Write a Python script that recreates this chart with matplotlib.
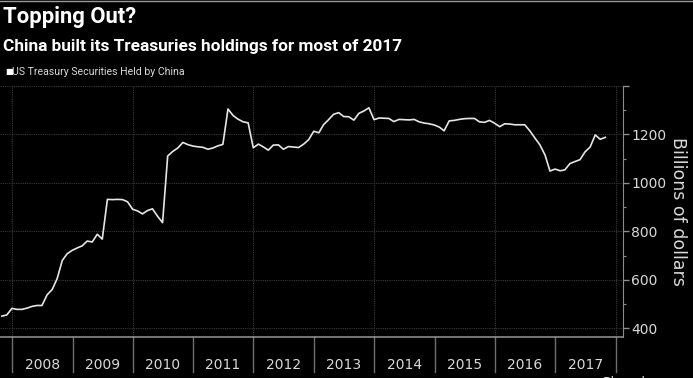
"""
Topping Out? - China's US Treasury holdings
"""
import matplotlib
matplotlib.use('Agg')
import matplotlib.pyplot as plt
from matplotlib.ticker import MultipleLocator
import pandas as pd

# monthly holdings, billions of dollars (Oct 2007 .. Oct 2017)
months = pd.date_range('2007-10-31', '2017-10-31', freq='ME')
holdings = [
    450, 455, 482, 478, 478, 483, 490, 494, 494, 538, 560, 605, 680, 708,
    722, 732, 740, 760, 756, 788, 768, 932, 931, 932, 931, 922,
    891, 884, 872, 886, 893, 862, 836, 1111, 1130, 1144, 1167, 1158,
    1152, 1149, 1147, 1139, 1144, 1153, 1159, 1305, 1278, 1263, 1252, 1248,
    1145, 1160, 1149, 1135, 1156, 1157, 1139, 1150, 1148, 1146, 1160, 1178,
    1213, 1207, 1240, 1261, 1283, 1290, 1274, 1273, 1259, 1287, 1297, 1310,
    1261, 1268, 1267, 1266, 1253, 1262, 1261, 1260, 1262, 1252, 1247, 1244,
    1239, 1230, 1215, 1256, 1258, 1262, 1265, 1266, 1266, 1252, 1250, 1258,
    1246, 1232, 1244, 1243, 1240, 1240, 1240, 1215, 1185, 1157, 1115, 1049,
    1057, 1050, 1054, 1080, 1088, 1096, 1128, 1148, 1198, 1180, 1188,
]
years = list(range(2008, 2018))

BG = '#000000'
FG = '#ffffff'
GRID = '#3a3a3a'
AXIS = '#8c8c8c'
LABEL = '#d9d9d9'
NARROW = ['Roboto', 'DejaVu Sans']

fig = plt.figure(figsize=(6.93, 3.78), dpi=100)
fig.patch.set_facecolor(BG)
ax = fig.add_axes([0.0, 0.1085, 0.899, 0.664])
ax.set_facecolor(BG)

ax.plot(months, holdings, color='#e6e6e6', lw=1.2, zorder=3)

x0 = pd.Timestamp('2007-10-20')
x1 = pd.Timestamp('2018-02-15')
ax.set_xlim(x0, x1)
ax.set_ylim(364, 1400)

# y axis on the right
ax.yaxis.tick_right()
ax.yaxis.set_label_position('right')
ax.yaxis.set_major_locator(MultipleLocator(200))
ax.yaxis.set_minor_locator(MultipleLocator(100))
ax.tick_params(axis='y', which='major', colors=AXIS, length=4, width=1,
               labelcolor=LABEL, labelsize=10, pad=2)
ax.tick_params(axis='y', which='minor', colors=AXIS, length=2, width=0.8)
ax.set_yticks([400, 600, 800, 1000, 1200, 1400])
ax.set_yticklabels(['400', '600', '800', '1000', '1200', ''])
ax.set_ylabel('Billions of dollars', color=LABEL, fontsize=12.5, rotation=270,
              labelpad=15)

# gridlines
for v in [400, 600, 800, 1000, 1200, 1400]:
    ax.axhline(v, color=GRID, lw=0.8, ls=(0, (1, 1)), zorder=1)
for yr in range(2008, 2019, 2):
    ax.axvline(pd.Timestamp(f'{yr}-01-01'), color=GRID, lw=0.8, ls=(0, (1, 1)), zorder=1)

# spines
for s in ['top', 'left']:
    ax.spines[s].set_visible(False)
ax.spines['right'].set_color(AXIS)
ax.spines['bottom'].set_color(AXIS)
ax.spines['bottom'].set_linewidth(1.2)

# x axis: year separators below the axis, labels centred in each year
ax.set_xticks([])
for yr in years + [2018]:
    ax.plot([pd.Timestamp(f'{yr}-01-01')] * 2, [0, -0.14], transform=ax.get_xaxis_transform(),
            color='#6e6e6e', lw=1, clip_on=False)
for yr in years:
    ax.text(pd.Timestamp(f'{yr}-07-01'), -0.112, str(yr), transform=ax.get_xaxis_transform(),
            ha='center', va='center', color=LABEL, fontsize=10)

# titles
fig.text(0.004, 0.955, 'Topping Out?', color=FG, fontsize=15.8, fontweight='bold',
         ha='left', va='center', family=NARROW)
fig.text(0.004, 0.878, 'China built its Treasuries holdings for most of 2017', color=FG,
         fontsize=12.4, fontweight='bold', ha='left', va='center', family=NARROW)

# legend
fig.text(0.007, 0.81, '\u25a0', color=FG, fontsize=6, ha='left', va='center')
fig.text(0.0175, 0.81, 'US Treasury Securities Held by China', color=LABEL, fontsize=7.6,
         ha='left', va='center', family=NARROW)

# source mark, cut off at the bottom edge
fig.text(0.87, -0.012, 'Bloomberg', color=LABEL, fontsize=9, ha='left', va='center')

# thin border at the top
fig.add_artist(plt.Line2D([0, 1], [0.997, 0.997], color='#9a9a9a', lw=1))

fig.savefig('out.png', dpi=100, facecolor=BG)
plt.close(fig)
